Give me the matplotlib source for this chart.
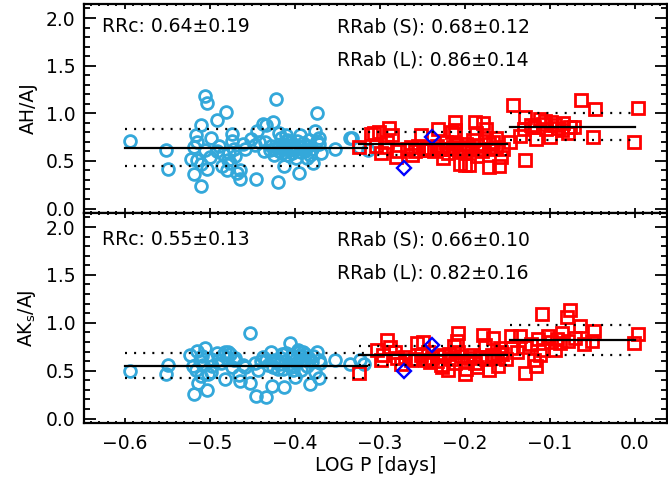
import matplotlib
matplotlib.use("Agg")
import matplotlib.pyplot as plt
from matplotlib.ticker import MultipleLocator, FuncFormatter

plt.rcParams['font.family'] = ['DejaVu Sans']

# ---------------- data ----------------
# Top panel (AH/AJ)
xc_top = [-0.594,-0.551,-0.549,-0.506,-0.503,-0.510,-0.516,-0.515,-0.499,-0.506,-0.522,-0.515,-0.510,-0.519,-0.510,-0.503,
          -0.491,-0.481,-0.492,-0.484,-0.479,-0.480,-0.474,-0.474,-0.472,-0.468,-0.465,-0.464,-0.461,-0.476,-0.451,-0.446,
          -0.445,-0.447,-0.437,-0.434,-0.426,-0.435,-0.429,-0.422,-0.420,-0.424,-0.416,-0.414,-0.410,-0.412,-0.413,-0.408,
          -0.404,-0.402,-0.399,-0.395,-0.394,-0.390,-0.388,-0.386,-0.382,-0.378,-0.376,-0.374,-0.372,-0.371,-0.369,-0.353,
          -0.335,-0.333,-0.324,-0.314,
          -0.428,-0.425,-0.420,-0.418,-0.415,-0.411,-0.407,-0.405,-0.403,-0.400,-0.397,-0.393,-0.391,-0.385,-0.383,-0.380,
          -0.374,-0.489,-0.477,-0.470,-0.458,-0.442,-0.519,-0.500,-0.486,-0.397,-0.409,-0.419,-0.436]
yc_top = [0.71,0.61,0.41,1.18,1.11,0.88,0.77,0.70,0.74,0.61,0.52,0.51,0.47,0.36,0.24,0.41,
          0.93,1.01,0.60,0.57,0.51,0.40,0.78,0.71,0.63,0.37,0.31,0.40,0.68,0.48,0.73,0.31,
          0.81,0.67,0.89,0.88,0.91,0.70,0.61,1.15,0.28,0.56,0.74,0.68,0.77,0.63,0.45,0.56,
          0.70,0.63,0.53,0.37,0.77,0.69,0.60,0.53,0.56,0.48,0.81,1.00,0.74,0.68,0.58,0.63,
          0.74,0.74,0.65,0.61,
          0.66,0.62,0.65,0.60,0.58,0.66,0.61,0.67,0.58,0.64,0.62,0.59,0.65,0.66,0.72,0.62,
          0.71,0.66,0.58,0.55,0.62,0.70,0.65,0.54,0.45,0.71,0.72,0.79,0.60]

xa_top = [-0.324,-0.307,-0.301,-0.298,-0.289,-0.286,-0.294,-0.281,-0.263,-0.258,-0.251,-0.247,-0.241,-0.231,-0.229,
          -0.225,-0.222,-0.218,-0.211,-0.211,-0.210,-0.206,-0.200,-0.202,-0.196,-0.188,-0.187,-0.183,-0.178,-0.175,
          -0.176,-0.171,-0.167,-0.163,-0.163,-0.160,-0.157,-0.147,-0.143,-0.135,-0.129,-0.129,-0.116,-0.118,-0.112,
          -0.106,-0.100,-0.094,-0.084,-0.078,-0.076,-0.072,-0.063,-0.049,-0.047,-0.001,0.004,-0.108,
          -0.268,-0.255,-0.244,-0.236,-0.233,-0.226,-0.220,-0.214,-0.207,-0.198,-0.192,-0.186,-0.180,-0.172,-0.168,
          -0.155,-0.278,-0.292,-0.304,-0.310,-0.215,-0.190,-0.122,-0.098,-0.090,-0.086,-0.104,-0.130,-0.262,-0.195,-0.186]
ya_top = [0.65,0.79,0.80,0.58,0.85,0.77,0.65,0.54,0.65,0.60,0.77,0.61,0.61,0.83,0.62,
          0.53,0.70,0.63,0.91,0.82,0.68,0.47,0.46,0.63,0.65,0.91,0.79,0.63,0.90,0.83,
          0.74,0.44,0.70,0.74,0.65,0.45,0.54,0.70,1.09,0.76,0.51,0.96,0.73,0.86,0.94,
          0.92,0.75,0.88,0.90,0.79,0.86,0.86,1.14,0.75,1.05,0.70,1.06,0.89,
          0.62,0.66,0.64,0.60,0.66,0.62,0.58,0.65,0.60,0.68,0.61,0.66,0.60,0.68,0.62,
          0.63,0.60,0.70,0.66,0.78,0.80,0.72,0.88,0.91,0.85,0.82,0.83,0.84,0.56,0.46,0.55]

xd_top = [-0.238, -0.272]
yd_top = [0.75, 0.425]

# Bottom panel (AKs/AJ)
xc_bot = [-0.594,-0.549,-0.551,-0.523,-0.515,-0.506,-0.512,-0.508,-0.516,-0.510,-0.514,-0.519,-0.503,-0.502,-0.498,
          -0.492,-0.490,-0.482,-0.480,-0.476,-0.472,-0.474,-0.482,-0.466,-0.464,-0.461,-0.453,-0.453,-0.447,-0.446,
          -0.443,-0.434,-0.434,-0.428,-0.426,-0.427,-0.421,-0.416,-0.414,-0.413,-0.410,-0.406,-0.404,-0.402,-0.400,
          -0.396,-0.394,-0.390,-0.393,-0.388,-0.382,-0.376,-0.374,-0.372,-0.370,-0.372,-0.353,-0.335,-0.323,
          -0.484,-0.478,-0.470,-0.487,-0.509,-0.497,-0.425,-0.418,-0.411,-0.408,-0.403,-0.398,-0.392,-0.386,-0.384,
          -0.380,-0.431,-0.440,-0.415,-0.395,-0.458,-0.437,-0.420,-0.499,-0.520,-0.405,-0.388,-0.378,-0.318]
yc_bot = [0.50,0.56,0.47,0.66,0.71,0.74,0.60,0.56,0.51,0.44,0.37,0.26,0.30,0.46,0.49,
          0.68,0.61,0.70,0.63,0.67,0.61,0.54,0.41,0.45,0.39,0.56,0.89,0.37,0.58,0.24,
          0.51,0.22,0.61,0.70,0.54,0.34,0.60,0.63,0.52,0.33,0.68,0.79,0.63,0.51,0.43,
          0.72,0.65,0.70,0.51,0.61,0.36,0.49,0.70,0.61,0.58,0.42,0.61,0.57,0.61,
          0.66,0.69,0.63,0.58,0.65,0.55,0.61,0.57,0.60,0.56,0.66,0.58,0.62,0.55,0.64,
          0.59,0.56,0.60,0.67,0.69,0.54,0.64,0.52,0.62,0.55,0.54,0.67,0.65,0.57]

xa_bot = [-0.324,-0.291,-0.288,-0.282,-0.298,-0.280,-0.263,-0.249,-0.247,-0.243,-0.241,-0.227,-0.220,-0.218,-0.208,
          -0.209,-0.208,-0.200,-0.194,-0.185,-0.179,-0.176,-0.171,-0.167,-0.165,-0.161,-0.159,-0.157,-0.145,-0.145,
          -0.135,-0.129,-0.129,-0.118,-0.116,-0.109,-0.114,-0.108,-0.102,-0.094,-0.092,-0.086,-0.080,-0.076,-0.078,
          -0.064,-0.050,-0.048,-0.001,0.004,-0.230,
          -0.270,-0.258,-0.252,-0.238,-0.233,-0.224,-0.215,-0.212,-0.204,-0.197,-0.190,-0.188,-0.182,-0.175,-0.168,
          -0.162,-0.156,-0.275,-0.303,-0.296,-0.256,-0.213,-0.198,-0.228,-0.152,-0.138,-0.122,-0.098,-0.088,-0.070,
          -0.112,-0.060]
ya_bot = [0.48,0.82,0.75,0.70,0.61,0.63,0.61,0.80,0.61,0.70,0.59,0.54,0.51,0.67,0.89,
          0.81,0.70,0.47,0.63,0.54,0.87,0.77,0.51,0.84,0.65,0.55,0.74,0.70,0.86,0.74,
          0.86,0.75,0.48,0.61,0.55,1.09,0.83,0.72,0.86,0.72,0.83,0.89,1.06,1.13,0.81,
          0.97,0.81,0.91,0.79,0.88,0.65,
          0.64,0.62,0.66,0.63,0.60,0.66,0.62,0.58,0.65,0.60,0.66,0.58,0.64,0.62,0.66,
          0.63,0.67,0.57,0.72,0.66,0.79,0.76,0.52,0.56,0.62,0.70,0.78,0.80,0.79,0.84,
          0.66,0.78]

xd_bot = [-0.238, -0.272]
yd_bot = [0.77, 0.50]

# group statistics (mean, sigma) and period ranges
groups = ['RRc', 'RRab (S)', 'RRab (L)']
ranges = [(-0.60, -0.315), (-0.325, -0.15), (-0.147, 0.0)]
mean_top = [0.64, 0.68, 0.86]
sig_top = [0.19, 0.12, 0.14]
mean_bot = [0.55, 0.66, 0.82]
sig_bot = [0.13, 0.10, 0.16]

ylabels = ['AH/AJ', r'AK$_\mathregular{s}$/AJ']
xlabel = 'LOG P [days]'

# ---------------- plot ----------------
cyan = '#34A8DA'
fig = plt.figure(figsize=(6.68, 4.87), dpi=100)
W, H = 668.0, 487.0
ax1 = fig.add_axes([84/W, 1-213/H, (667-84)/W, (213-4)/H])
ax2 = fig.add_axes([84/W, 1-423/H, (667-84)/W, (423-213)/H])

fs = 13.5

def minus_fmt(v, pos):
    s = '%.1f' % v
    if s.startswith('-'):
        s = '\u2212' + s[1:]
    if s == '\u22120.0':
        s = '0.0'
    return s

panels = [
    (ax1, xc_top, yc_top, xa_top, ya_top, xd_top, yd_top, mean_top, sig_top, ylabels[0]),
    (ax2, xc_bot, yc_bot, xa_bot, ya_bot, xd_bot, yd_bot, mean_bot, sig_bot, ylabels[1]),
]

for i, (ax, xc, yc, xa, ya, xd, yd, mu, sg, yl) in enumerate(panels):
    ax.plot(xc, yc, 'o', ms=8.5, mfc='none', mec=cyan, mew=2.0, ls='none', zorder=2)
    ax.plot(xa, ya, 's', ms=8.5, mfc='none', mec='#FF0000', mew=2.0, ls='none', zorder=2)
    ax.plot(xd, yd, 'D', ms=7.5, mfc='none', mec='#0000FF', mew=1.7, ls='none', zorder=3)
    for (x0, x1), m, s in zip(ranges, mu, sg):
        ax.plot([x0, x1], [m, m], color='black', lw=1.6, zorder=4)
        ax.plot([x0, x1], [m + s, m + s], color='black', lw=1.6, ls=(0, (0.9, 3.2)), zorder=4)
        ax.plot([x0, x1], [m - s, m - s], color='black', lw=1.6, ls=(0, (0.9, 3.2)), zorder=4)
    ax.set_xlim(-0.648, 0.038)
    ax.set_ylim(-0.047, 2.147)
    ax.xaxis.set_major_locator(MultipleLocator(0.1))
    ax.xaxis.set_minor_locator(MultipleLocator(0.01))
    ax.yaxis.set_major_locator(MultipleLocator(0.5))
    ax.yaxis.set_minor_locator(MultipleLocator(0.1))
    ax.yaxis.set_major_formatter(FuncFormatter(minus_fmt))
    ax.xaxis.set_major_formatter(FuncFormatter(minus_fmt))
    ax.tick_params(axis='both', which='both', direction='in', top=True, right=True, labelsize=fs, width=1.3)
    ax.tick_params(axis='y', which='major', length=8.5)
    ax.tick_params(axis='y', which='minor', length=4)
    ax.tick_params(axis='x', which='major', length=3.5)
    ax.tick_params(axis='x', which='minor', length=1.5)
    ax.tick_params(axis='x', pad=8)
    ax.tick_params(axis='y', pad=6)
    for sp in ax.spines.values():
        sp.set_linewidth(1.6)
    ax.set_ylabel(yl, fontsize=fs, labelpad=6)
    ya_c = 0.89 if i == 0 else 0.872
    yb_c = 0.732 if i == 0 else 0.714
    ax.text(0.031, ya_c, '%s: %.2f\u00b1%.2f' % (groups[0], mu[0], sg[0]), transform=ax.transAxes,
            fontsize=fs, va='center', ha='left')
    ax.text(0.434, ya_c, '%s: %.2f\u00b1%.2f' % (groups[1], mu[1], sg[1]), transform=ax.transAxes,
            fontsize=fs, va='center', ha='left')
    ax.text(0.434, yb_c, '%s: %.2f\u00b1%.2f' % (groups[2], mu[2], sg[2]), transform=ax.transAxes,
            fontsize=fs, va='center', ha='left')

ax1.tick_params(axis='x', labelbottom=False)
ax2.set_xlabel(xlabel, fontsize=fs, labelpad=2)
fig.align_ylabels([ax1, ax2])

fig.savefig('out.png', dpi=100)
